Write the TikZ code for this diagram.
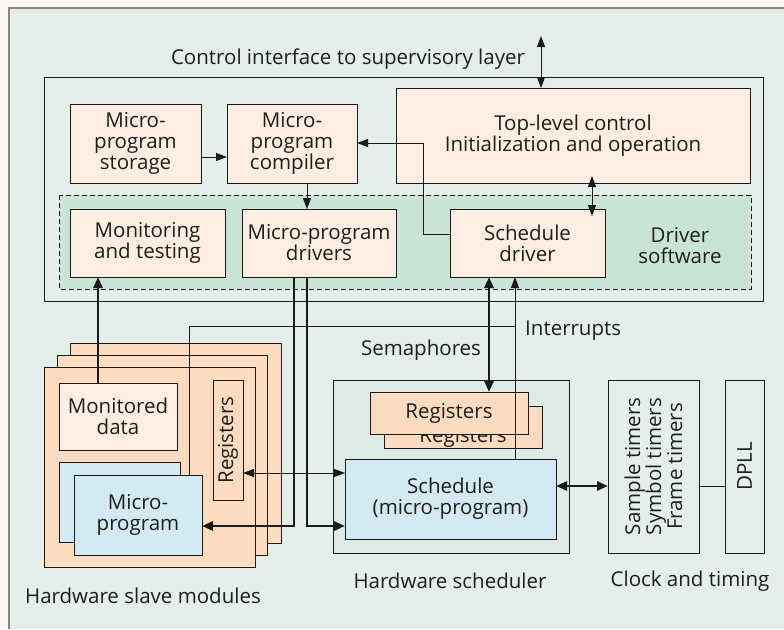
\documentclass[tikz,border=0pt]{standalone}
\usepackage{fontspec}
\setmainfont{Open Sans}
\usetikzlibrary{arrows.meta}
\definecolor{bgc}{HTML}{FEF6EF}
\definecolor{panel}{HTML}{E5EFE9}
\definecolor{dashfill}{HTML}{C9E4D7}
\definecolor{cream}{HTML}{FEEEE1}
\definecolor{peach}{HTML}{FCDBC0}
\definecolor{lblue}{HTML}{D3EAF2}
\definecolor{schedfill}{HTML}{DCEBE3}
\definecolor{edge}{HTML}{1A1A1A}
\definecolor{frame}{HTML}{8A8580}
\definecolor{txt}{HTML}{1E1E1E}
\begin{document}
\begin{tikzpicture}[x=1pt,y=-1pt,
  every node/.style={font=\fontsize{20.5}{21}\selectfont, text=txt},
  box/.style={draw=edge, line width=1pt, inner sep=0pt, outer sep=0pt, align=center},
  lbl/.style={inner sep=0pt, align=center},
  tarr/.style={-{Triangle[length=11pt,width=8pt]}, line width=1pt, draw=edge},
  tdarr/.style={{Triangle[length=11pt,width=8pt]}-{Triangle[length=11pt,width=8pt]}, line width=1pt, draw=edge},
  tline/.style={line width=1pt, draw=edge},
  karr/.style={-{Triangle[length=11pt,width=9pt]}, line width=2.8pt, draw=edge},
  kdarr/.style={{Triangle[length=11pt,width=9pt]}-{Triangle[length=11pt,width=9pt]}, line width=2.8pt, draw=edge}
]
\useasboundingbox (0,0) rectangle (784,629);
\fill[bgc] (0,0) rectangle (784,629);
\fill[panel] (9,8) rectangle (784,629);
\draw[frame, line width=1.3pt] (9,629) -- (9,8) -- (784,8);

% title
\node[lbl] (title) at (348,59) {Control interface to supervisory layer};
\coordinate (ctl) at (541,36);

% software box
\draw[edge, line width=1pt, fill=panel] (44,77) rectangle (763,301);
\draw[edge, line width=1pt, dashed, dash pattern=on 5pt off 3pt, fill=dashfill] (59,195) rectangle (751,289);

\node[box, fill=cream, minimum width=131pt, minimum height=79pt] (storage) at (135.5,143.5) {Micro-\\program\\storage};
\node[box, fill=cream, minimum width=130pt, minimum height=79pt] (compiler) at (292,143.5) {Micro-\\program\\compiler};
\node[box, fill=cream, minimum width=354pt, minimum height=95pt] (top) at (573,135.5) {Top-level control\\Initialization and operation};
\node[box, fill=cream, minimum width=155pt, minimum height=68pt] (monit) at (147.5,243) {Monitoring\\and testing};
\node[box, fill=cream, minimum width=154pt, minimum height=68pt] (drivers) at (319,243) {Micro-program\\drivers};
\node[box, fill=cream, minimum width=155pt, minimum height=68pt] (sdrv) at (527.5,243) {Schedule\\driver};
\node[lbl] (drvsw) at (680,246) {Driver\\software};

% slave modules
\node[box, fill=peach, minimum width=211pt, minimum height=200pt] (sm3) at (175.5,443) {};
\node[box, fill=peach, minimum width=210pt, minimum height=200pt] (sm2) at (162,455) {};
\node[box, fill=peach, minimum width=211pt, minimum height=200pt] (sm1) at (149.5,467) {};
\node[box, fill=cream, minimum width=118pt, minimum height=67pt] (mdata) at (118,416.5) {Monitored\\data};
\node[box, fill=peach, rotate=90, minimum width=120pt, minimum height=30pt] (sregs) at (228,440) {Registers};
\node[box, fill=lblue, minimum width=121pt, minimum height=80pt] (mpb) at (119.5,502) {};
\node[box, fill=lblue, minimum width=128pt, minimum height=80pt] (mpf) at (138,515) {Micro-\\program};
\node[lbl] (hsm) at (143,596) {Hardware slave modules};

% scheduler
\node[box, fill=schedfill, minimum width=236pt, minimum height=173pt] (hws) at (451,466.5) {};
\node[box, fill=peach, minimum width=158pt, minimum height=42pt] (regb) at (463,427) {};
\node[lbl, anchor=base] (regbl) at (463,442) {Registers};
\node[box, fill=peach, minimum width=158pt, minimum height=42pt] (regf) at (449,413) {Registers};
\node[box, fill=lblue, minimum width=211pt, minimum height=80pt] (sched) at (450.5,499) {Schedule\\(micro-program)};
\node[lbl] (hwsl) at (450,581) {Hardware scheduler};

% clock and timing
\node[box, fill=panel, rotate=90, minimum width=173pt, minimum height=91pt] (timers) at (653.5,466.5) {Sample timers\\Symbol timers\\Frame timers};
\node[box, fill=panel, rotate=90, minimum width=173pt, minimum height=39pt] (dpll) at (744.5,466.5) {DPLL};
\node[lbl] (clk) at (690,581) {Clock and timing};

% labels
\node[lbl, anchor=west] (intl) at (525,331) {Interrupts};
\node[lbl] (seml) at (421,350) {Semaphores};

% connectors
\draw[tdarr] (ctl) -- (top.north -| ctl);
\draw[tarr] (storage.east |- {(0,157)}) -- (compiler.west |- {(0,157)});
\draw[tarr] (compiler.south -| {(307,0)}) -- (drivers.north -| {(307,0)});
\draw[tarr] (sdrv.west |- {(0,234)}) -- (423,234) -- (423,143) -- (compiler.east |- {(0,143)});
\draw[tdarr, shorten <=-7pt, shorten >=-7pt] (top.south -| {(592,0)}) -- (sdrv.north -| {(592,0)});

\draw[karr] (mdata.north -| {(98,0)}) -- (monit.south -| {(98,0)});
\draw[karr] (drivers.south -| {(294,0)}) -- (294,526) -- (mpf.east |- {(0,526)});
\draw[karr] (drivers.south -| {(307,0)}) -- (307,526) -- (sched.west |- {(0,526)});
\draw[tdarr] (sregs.south |- {(0,473)}) -- (sched.west |- {(0,473)});

\draw[tarr] (sched.north -| {(515,0)}) -- (sdrv.south -| {(515,0)});
\draw[tline] (515,326) -- (189,326) -- (mpf.north -| {(189,0)});
\draw[kdarr] (sdrv.south -| {(489,0)}) -- (regf.north -| {(489,0)});

\draw[kdarr] (sched.east |- {(0,486)}) -- (timers.north |- {(0,486)});
\draw[tline] (timers.south |- {(0,486)}) -- (dpll.north |- {(0,486)});
\end{tikzpicture}
\end{document}
